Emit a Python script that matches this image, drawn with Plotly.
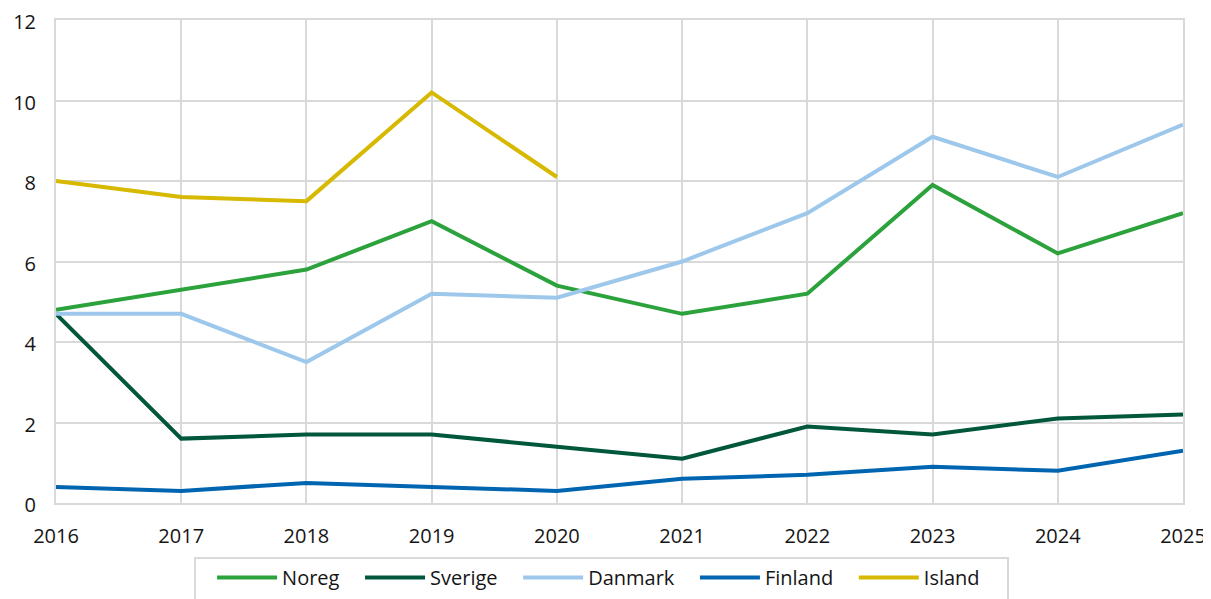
import plotly.graph_objects as go

years = [2016, 2017, 2018, 2019, 2020, 2021, 2022, 2023, 2024, 2025]
noreg = [4.8, 5.3, 5.8, 7.0, 5.4, 4.7, 5.2, 7.9, 6.2, 7.2]
sverige = [4.7, 1.6, 1.7, 1.7, 1.4, 1.1, 1.9, 1.7, 2.1, 2.2]
danmark = [4.7, 4.7, 3.5, 5.2, 5.1, 6.0, 7.2, 9.1, 8.1, 9.4]
finland = [0.4, 0.3, 0.5, 0.4, 0.3, 0.6, 0.7, 0.9, 0.8, 1.3]
island = [8.0, 7.6, 7.5, 10.2, 8.1, None, None, None, None, None]

series = [
    ("Noreg", noreg, "#2ca23c"),
    ("Sverige", sverige, "#00573c"),
    ("Danmark", danmark, "#9dc8ec"),
    ("Finland", finland, "#0065b1"),
    ("Island", island, "#d6b900"),
]

fig = go.Figure()
for name, vals, col in series:
    fig.add_trace(go.Scatter(
        x=years, y=vals, name=name + "\u00a0\u00a0\u00a0", mode="lines",
        line=dict(color=col, width=4),
        connectgaps=False
    ))

grid = "#d9d9d9"
# page body has an 8px margin, so offsets are trimmed here
fig.update_layout(
    width=1211, height=599,
    margin=dict(l=48, r=36, t=12, b=104, autoexpand=False),
    plot_bgcolor="white", paper_bgcolor="white",
    font=dict(family="Open Sans", size=20, color="#151515"),
    legend=dict(
        orientation="h", x=0.1385, xanchor="left", y=-0.114, yanchor="top",
        borderwidth=0, bgcolor="rgba(0,0,0,0)", font=dict(size=20),
        itemwidth=60
    ),
    showlegend=True,
)
# legend frame
fig.add_shape(
    type="rect", xref="paper", yref="paper",
    x0=0.1233, x1=0.8447, y0=-0.26, y1=-0.114,
    line=dict(color=grid, width=2), layer="below"
)
fig.update_xaxes(
    range=[2016, 2025], tickvals=years, showgrid=True, gridcolor=grid, gridwidth=2,
    showline=True, linecolor=grid, linewidth=2, mirror=True, zeroline=False,
    ticks="", ticklabelstandoff=14, automargin=False, tickfont=dict(size=20),
    ticklabeloverflow="allow"
)
fig.update_yaxes(
    range=[0, 12], dtick=2, showgrid=True, gridcolor=grid, gridwidth=2,
    showline=True, linecolor=grid, linewidth=2, mirror=True, zeroline=False,
    ticks="", ticklabelstandoff=14, automargin=False, tickfont=dict(size=20),
    ticklabeloverflow="allow", ticklabelshift=2
)

fig.write_html("out.html")
